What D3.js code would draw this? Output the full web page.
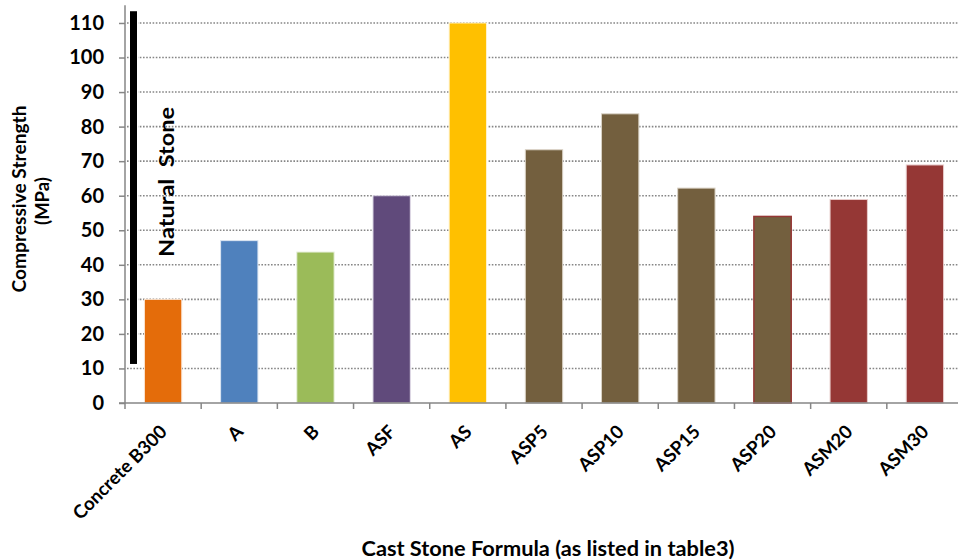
<!DOCTYPE html>
<html>
<head>
<meta charset="utf-8">
<script src="https://cdn.jsdelivr.net/npm/d3@7"></script>
<style>
  html, body { margin: 0; padding: 0; background: #fff; }
  svg { display: block; font-family: Lato, "Open Sans", sans-serif; font-weight: bold; }
</style>
</head>
<body>
<svg id="chart" width="958" height="560"></svg>
<script>
// Cast stone formulas and their compressive strength (MPa)
const categories = ["Concrete B300", "A", "B", "ASF", "AS", "ASP5", "ASP10", "ASP15", "ASP20", "ASM20", "ASM30"];
const strength   = [30, 47, 43.7, 60, 110, 73.3, 83.7, 62.2, 54, 58.9, 68.9];
const fills      = ["#E46C0A", "#4F81BD", "#9BBB59", "#604A7B", "#FFC000", "#735F3E", "#735F3E", "#735F3E", "#735F3E", "#953735", "#953735"];
const outlines   = ["#fbe3d0", "#dce6f2", "#e8f0dc", "#e0dbe8", "#fff2cc", "#d9d2c5", "#d9d2c5", "#d9d2c5", "#953735", "#e8cccb", "#e8cccb"];
const yTicks     = [0, 10, 20, 30, 40, 50, 60, 70, 80, 90, 100, 110];
const naturalStoneRange = [11.3, 113.4];

const svg = d3.select("#chart");
const plot = { left: 125, right: 963, top: 5.7, bottom: 403 };

const x = d3.scaleBand()
  .domain(categories)
  .range([plot.left, plot.right])
  .paddingInner(0.51)
  .paddingOuter(0.255);

const y = d3.scaleLinear()
  .domain([0, 115])
  .range([plot.bottom, plot.top]);

const gray = "#868686";

// dotted horizontal gridlines
svg.append("g")
  .selectAll("line")
  .data(yTicks.filter(d => d > 0))
  .join("line")
  .attr("x1", plot.left + 2)
  .attr("x2", 958)
  .attr("y1", d => y(d))
  .attr("y2", d => y(d))
  .attr("stroke", gray)
  .attr("stroke-width", 1.6)
  .attr("stroke-dasharray", "1.6 1.6");

// bars
svg.append("g")
  .selectAll("rect")
  .data(categories)
  .join("rect")
  .attr("x", d => x(d))
  .attr("width", x.bandwidth())
  .attr("y", (d, i) => y(strength[i]))
  .attr("height", (d, i) => y(0) - y(strength[i]))
  .attr("fill", (d, i) => fills[i])
  .attr("stroke", (d, i) => outlines[i])
  .attr("stroke-width", (d, i) => categories[i] === "ASP20" ? 1.5 : 1);

// natural stone range marker
svg.append("rect")
  .attr("x", plot.left + 5)
  .attr("width", 7)
  .attr("y", y(naturalStoneRange[1]))
  .attr("height", y(naturalStoneRange[0]) - y(naturalStoneRange[1]))
  .attr("fill", "#000")
  .attr("stroke", "#fff")
  .attr("stroke-width", 2)
  .attr("paint-order", "stroke");

svg.append("text")
  .attr("transform", `translate(${plot.left + 49},${y(64)}) rotate(-90)`)
  .attr("text-anchor", "middle")
  .attr("font-size", 21)
  .attr("fill", "#000")
  .attr("textLength", 150)
  .attr("lengthAdjust", "spacingAndGlyphs")
  .style("white-space", "pre")
  .text("Natural  Stone");

// y axis
const yAxis = d3.axisLeft(y)
  .tickValues(yTicks)
  .tickSize(6)
  .tickPadding(15)
  .tickFormat(d3.format("d"));

const gy = svg.append("g")
  .attr("transform", `translate(${plot.left},0)`)
  .call(yAxis);
gy.select(".domain").attr("stroke", gray).attr("stroke-width", 1.5).attr("d", `M0,${plot.bottom}V${plot.top - 0.5}`);
gy.selectAll(".tick line").attr("stroke", gray).attr("stroke-width", 1.5);
gy.selectAll(".tick text")
  .attr("font-size", 20)
  .attr("font-family", "Lato, sans-serif")
  .attr("font-weight", "bold")
  .attr("fill", "#000");

// x axis: baseline, ticks between categories, rotated labels
const step = x.step();
const boundaries = d3.range(categories.length + 1).map(i => plot.left + i * step);

svg.append("line")
  .attr("x1", plot.left - 6)
  .attr("x2", 958)
  .attr("y1", plot.bottom)
  .attr("y2", plot.bottom)
  .attr("stroke", gray)
  .attr("stroke-width", 1.5);

svg.append("g")
  .selectAll("line")
  .data(boundaries)
  .join("line")
  .attr("x1", d => d)
  .attr("x2", d => d)
  .attr("y1", plot.bottom)
  .attr("y2", plot.bottom + 6)
  .attr("stroke", gray)
  .attr("stroke-width", 1.5);

svg.append("g")
  .selectAll("text")
  .data(categories)
  .join("text")
  .attr("transform", d => `translate(${x(d) + x.bandwidth() / 2 + 5},${plot.bottom + 30}) rotate(-45)`)
  .attr("text-anchor", "end")
  .attr("font-size", 18.5)
  .attr("fill", "#000")
  .text(d => d);

// axis titles
svg.append("text")
  .attr("transform", `translate(26,199) rotate(-90)`)
  .attr("text-anchor", "middle")
  .attr("font-size", 18.5)
  .attr("fill", "#000")
  .attr("textLength", 187)
  .attr("lengthAdjust", "spacingAndGlyphs")
  .text("Compressive Strength");

svg.append("text")
  .attr("transform", `translate(49,201) rotate(-90)`)
  .attr("text-anchor", "middle")
  .attr("font-size", 18.5)
  .attr("fill", "#000")
  .text("(MPa)");

svg.append("text")
  .attr("x", 548)
  .attr("y", 556)
  .attr("text-anchor", "middle")
  .attr("font-size", 20)
  .attr("fill", "#000")
  .attr("textLength", 373)
  .attr("lengthAdjust", "spacingAndGlyphs")
  .text("Cast Stone Formula (as listed in table3)");
</script>
</body>
</html>
